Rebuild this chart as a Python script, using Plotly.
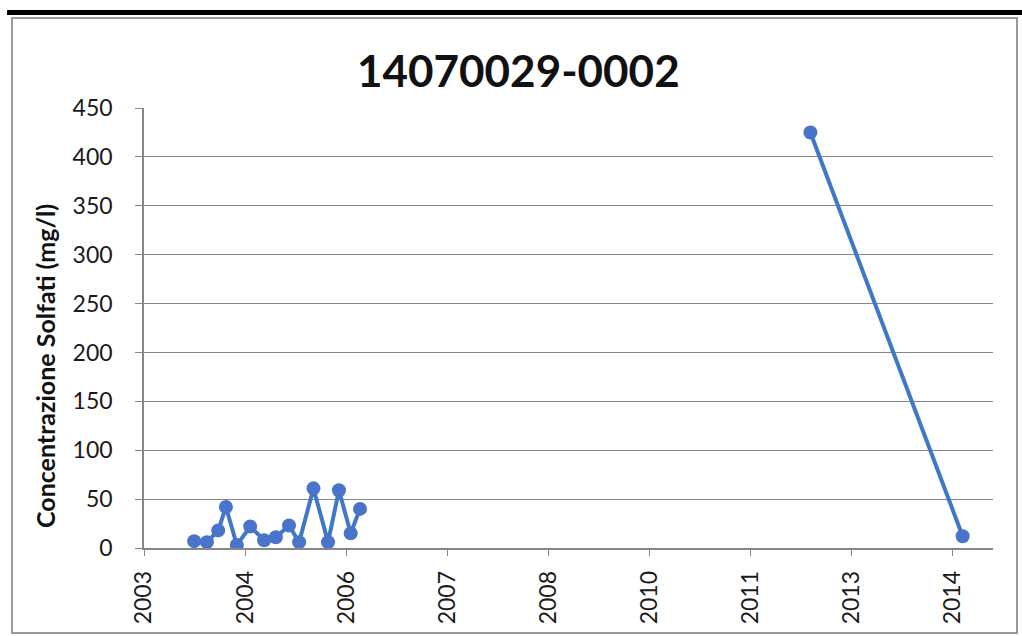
import plotly.graph_objects as go

# Sulphate concentration samples for well 14070029-0002
# (None marks the period without measurements, so the line is broken there)
sample_dates = [
    "2004-02-23", "2004-04-26", "2004-06-21", "2004-07-29", "2004-09-21",
    "2004-11-26", "2005-02-03", "2005-04-02", "2005-06-06", "2005-07-26",
    "2005-10-05", "2005-12-16", "2006-02-08", "2006-04-07", "2006-05-23",
    "2009-06-01",
    "2012-06-27", "2014-07-20",
]
solfati_mg_l = [
    7, 6, 18, 42, 3,
    22, 8, 11, 23, 6,
    61, 6, 59, 15, 40,
    None,
    425, 12,
]

# Date axis: major unit of 500 days
tick_dates = [
    "2003-06-20", "2004-11-01", "2006-03-16", "2007-07-29", "2008-12-10",
    "2010-04-24", "2011-09-06", "2013-01-18", "2014-06-02",
]
tick_labels = ["2003", "2004", "2006", "2007", "2008", "2010", "2011", "2013", "2014"]
x_range = ["2003-06-20", "2014-12-17"]

y_ticks = [0, 50, 100, 150, 200, 250, 300, 350, 400, 450]

W, H = 1022, 636
L, R, T, B = 144, 29, 108, 88
pw, ph = W - L - R, H - T - B


def px(x):
    return (x - L) / pw


def py(y):
    return (H - B - y) / ph


FONT = "Lato, 'Open Sans', sans-serif"
GRID = "#878787"

fig = go.Figure()
fig.add_trace(go.Scatter(
    x=sample_dates,
    y=solfati_mg_l,
    mode="lines+markers",
    connectgaps=False,
    line=dict(color="#3E78C7", width=4),
    marker=dict(color="#4A74C9", size=14, line=dict(width=0)),
    showlegend=False,
    hoverinfo="x+y",
))

fig.update_layout(
    width=W,
    height=H,
    margin=dict(l=L, r=R, t=T, b=B, pad=0),
    paper_bgcolor="white",
    plot_bgcolor="white",
    font=dict(family=FONT, color="#1a1a1a"),
    xaxis=dict(
        type="date",
        range=x_range,
        tickvals=tick_dates,
        ticktext=tick_labels,
        tickangle=-90,
        tickfont=dict(size=23, color="#1a1a1a"),
        showgrid=False,
        zeroline=False,
        showline=True,
        linecolor=GRID,
        linewidth=1.5,
        ticks="outside",
        ticklen=6,
        tickcolor=GRID,
        ticklabelstandoff=6,
    ),
    yaxis=dict(
        range=[0, 450],
        tickvals=y_ticks,
        tickfont=dict(size=23, color="#1a1a1a"),
        showgrid=True,
        gridcolor=GRID,
        gridwidth=1,
        zeroline=False,
        showline=True,
        linecolor=GRID,
        linewidth=1.5,
        ticks="outside",
        ticklen=7,
        tickcolor=GRID,
        ticklabelstandoff=18,
    ),
    shapes=[
        # thick rule above the chart frame
        dict(type="rect", xref="paper", yref="paper", layer="above",
             x0=px(7), x1=px(1022), y0=py(15), y1=py(10),
             fillcolor="black", line=dict(width=0)),
        # chart frame
        dict(type="rect", xref="paper", yref="paper", layer="below",
             x0=px(12), x1=px(1017), y0=py(633), y1=py(18),
             fillcolor="rgba(0,0,0,0)", line=dict(color="#9a9a9a", width=2)),
    ],
    annotations=[
        dict(text="<b>14070029-0002</b>", xref="paper", yref="paper",
             x=px(518), y=py(70), xanchor="center", yanchor="middle",
             showarrow=False, font=dict(size=44, family=FONT, color="#111111")),
        dict(text="<b>Concentrazione Solfati (mg/l)</b>", xref="paper", yref="paper",
             x=px(45), y=py(366), xanchor="center", yanchor="middle", textangle=-90,
             showarrow=False, font=dict(size=25, family=FONT, color="#111111")),
    ],
)

fig.write_html("out.html")
